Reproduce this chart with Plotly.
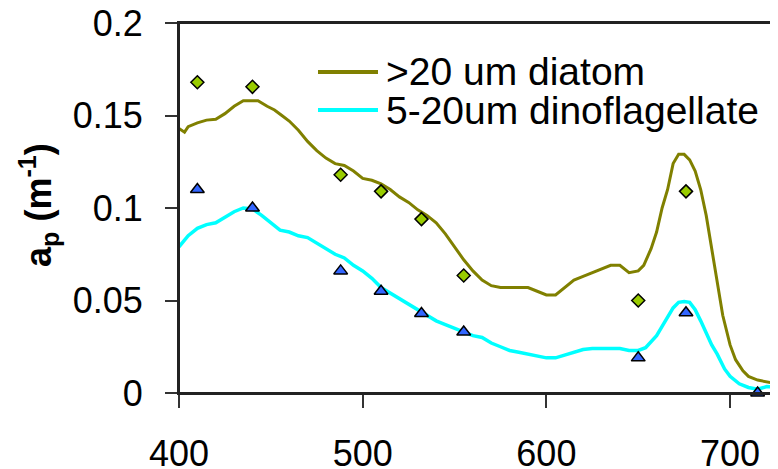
import plotly.graph_objects as go

# ---- data ----
wl_diatom = [400, 403, 405, 410, 415, 420, 425, 430, 435, 440, 443, 448, 452, 456, 460, 465,
             470, 475, 480, 485, 490, 495, 500, 505, 510, 515, 520, 525, 530, 535, 540, 545,
             550, 555, 560, 565, 570, 575, 580, 585, 590, 595, 600, 605, 610, 615, 620, 625,
             630, 635, 640, 645, 650, 653, 657, 660, 663, 666, 669, 672, 675, 678, 681, 684,
             687, 690, 693, 696, 700, 703, 707, 710, 715, 720, 725]
ap_diatom = [0.143, 0.141, 0.144, 0.146, 0.1475, 0.148, 0.151, 0.155, 0.158, 0.158, 0.158, 0.155,
             0.153, 0.150, 0.147, 0.142, 0.136, 0.131, 0.127, 0.124, 0.123, 0.120, 0.116, 0.115,
             0.113, 0.110, 0.106, 0.103, 0.099, 0.096, 0.092, 0.086, 0.079, 0.072, 0.066, 0.061,
             0.058, 0.057, 0.057, 0.057, 0.057, 0.055, 0.053, 0.053, 0.057, 0.061, 0.063, 0.065,
             0.067, 0.069, 0.069, 0.065, 0.066, 0.069, 0.078, 0.087, 0.100, 0.110, 0.124, 0.129,
             0.129, 0.126, 0.120, 0.110, 0.096, 0.078, 0.059, 0.042, 0.026, 0.018, 0.012, 0.009,
             0.007, 0.006, 0.005]

wl_dino = [400, 405, 410, 415, 420, 425, 430, 435, 440, 445, 450, 455, 460, 465, 470, 475, 480,
           485, 490, 495, 500, 505, 510, 515, 520, 525, 530, 535, 540, 545, 550, 555, 560, 565,
           570, 575, 580, 585, 590, 595, 600, 605, 610, 615, 620, 625, 630, 635, 640, 645, 650,
           654, 657, 660, 663, 666, 669, 672, 675, 678, 681, 684, 687, 690, 693, 697, 700, 705,
           710, 715, 720, 725]
ap_dino = [0.079, 0.085, 0.089, 0.091, 0.092, 0.095, 0.098, 0.100, 0.0995, 0.096, 0.092, 0.088,
           0.087, 0.085, 0.084, 0.081, 0.078, 0.075, 0.073, 0.069, 0.066, 0.062, 0.057, 0.054,
           0.051, 0.048, 0.045, 0.042, 0.039, 0.037, 0.035, 0.033, 0.031, 0.030, 0.027, 0.025,
           0.023, 0.022, 0.021, 0.020, 0.019, 0.019, 0.0205, 0.022, 0.0235, 0.024, 0.024, 0.0243,
           0.024, 0.023, 0.023, 0.0245, 0.028, 0.031, 0.036, 0.041, 0.046, 0.049, 0.0495, 0.049,
           0.045, 0.039, 0.032, 0.026, 0.021, 0.013, 0.009, 0.005, 0.003, 0.002, 0.0035, 0.003]

wl_points_diatom = [410, 440, 488, 510, 532, 555, 650, 676]
ap_points_diatom = [0.168, 0.1655, 0.118, 0.109, 0.094, 0.0635, 0.050, 0.109]

wl_points_dino = [410, 440, 488, 510, 532, 555, 650, 676, 715]
ap_points_dino = [0.110, 0.100, 0.066, 0.055, 0.043, 0.033, 0.019, 0.0434, 0.0]

series_names = [">20 um diatom", "5-20um dinoflagellate"]
x_ticks = [400, 500, 600, 700]
y_ticks = [0, 0.05, 0.1, 0.15, 0.2]
y_ticklabels = ["0", "0.05", "0.1", "0.15", "0.2"]

OLIVE = "#808000"
CYAN = "#00FFFF"
FONT = "Liberation Sans, Arial, sans-serif"

fig = go.Figure()
fig.add_trace(go.Scatter(x=wl_diatom, y=ap_diatom, mode="lines", name=series_names[0],
                         line=dict(color=OLIVE, width=3), showlegend=False))
fig.add_trace(go.Scatter(x=wl_dino, y=ap_dino, mode="lines", name=series_names[1],
                         line=dict(color=CYAN, width=3.5), showlegend=False))
fig.add_trace(go.Scatter(x=wl_points_diatom, y=ap_points_diatom, mode="markers",
                         marker=dict(symbol="diamond", size=10, color="#99CC00",
                                     line=dict(color="black", width=1.5)),
                         showlegend=False, cliponaxis=False))
fig.add_trace(go.Scatter(x=wl_points_dino, y=ap_points_dino, mode="markers",
                         marker=dict(symbol="triangle-up", size=12, color="#3366FF",
                                     line=dict(color="black", width=1.5)),
                         showlegend=False, cliponaxis=False))

# plot-area box in window pixels (page body has an 8px margin)
OFF = 8
L, R, T, B = 179, 776, 23, 393
W, H = R - L, B - T
FIG_W, FIG_H = 778 - OFF, 469 - OFF
def px(xp):
    return (xp - L) / W
def py(yp):
    return (B - yp) / H

# manual legend
for name, col, lw, yline in [(series_names[0], OLIVE, 4, 72),
                             (series_names[1], CYAN, 4, 110)]:
    fig.add_shape(type="line", xref="paper", yref="paper",
                  x0=px(318), x1=px(378), y0=py(yline), y1=py(yline),
                  line=dict(color=col, width=lw))
    fig.add_annotation(xref="paper", yref="paper", x=px(384), y=py(yline),
                       xanchor="left", yanchor="middle", text=name, showarrow=False,
                       font=dict(family=FONT, size=39, color="black"))

fig.add_annotation(xref="paper", yref="paper", x=px(38), y=py(205), textangle=-90,
                   text="<b>a<sub>p</sub> (m<sup>-1</sup>)</b>", showarrow=False,
                   xanchor="center", yanchor="middle",
                   font=dict(family=FONT, size=36, color="black"))

# plot-area frame
fig.add_shape(type="rect", xref="paper", yref="paper", x0=0, x1=1, y0=0, y1=1,
              line=dict(color="#222", width=2), fillcolor="rgba(0,0,0,0)", layer="above")

fig.update_layout(
    width=FIG_W, height=FIG_H,
    margin=dict(l=L - OFF, r=FIG_W - (R - OFF), t=T - OFF, b=FIG_H - (B - OFF)),
    paper_bgcolor="white", plot_bgcolor="white",
    font=dict(family=FONT, size=36, color="black"),
    xaxis=dict(range=[400, 725], tickvals=x_ticks, ticks="outside", ticklen=13,
               tickwidth=1.5, tickcolor="#333", showline=True, linecolor="#222",
               linewidth=2, mirror=True, showgrid=False, zeroline=False,
               ticklabelstandoff=15, tickfont=dict(size=36), automargin=False,
               ticklabeloverflow="allow"),
    yaxis=dict(range=[0, 0.2], tickvals=y_ticks, ticktext=y_ticklabels, ticks="outside",
               ticklen=12, tickwidth=1.5, tickcolor="#333", showline=True,
               linecolor="#222", linewidth=2, mirror=True, showgrid=False,
               zeroline=False, ticklabelstandoff=15, tickfont=dict(size=36),
               automargin=False, ticklabeloverflow="allow"),
)

fig.write_html("out.html")
